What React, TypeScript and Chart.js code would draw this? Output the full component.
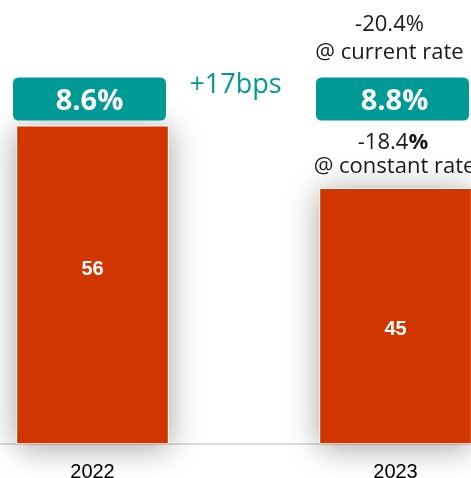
import React, { useEffect, useRef } from "react";
import { Chart, registerables } from "chart.js";

Chart.register(...registerables);

const categories = ["2022", "2023"];
const values = [56, 45];
const rateLabels = ["8.6%", "8.8%"];
const changeLabel = "+17bps";
const currentRateLines = ["-20.4%", "@ current rate"];
const constantRateValue = "-18.4";
const constantRateUnit = "%";
const constantRateNote = "@ constant rate";

const RED = "#d13600";
const TEAL = "#009a96";
const FONT = "'Open Sans', 'Noto Sans', sans-serif";

function roundRect(ctx: CanvasRenderingContext2D, x: number, y: number, w: number, h: number, r: number) {
  ctx.beginPath();
  ctx.moveTo(x + r, y);
  ctx.lineTo(x + w - r, y);
  ctx.quadraticCurveTo(x + w, y, x + w, y + r);
  ctx.lineTo(x + w, y + h - r);
  ctx.quadraticCurveTo(x + w, y + h, x + w - r, y + h);
  ctx.lineTo(x + r, y + h);
  ctx.quadraticCurveTo(x, y + h, x, y + h - r);
  ctx.lineTo(x, y + r);
  ctx.quadraticCurveTo(x, y, x + r, y);
  ctx.closePath();
}

const shadowPlugin = {
  id: "barShadow",
  beforeDatasetsDraw(chart: any) {
    const ctx: CanvasRenderingContext2D = chart.ctx;
    const bars = chart.getDatasetMeta(0).data;
    ctx.save();
    ctx.shadowColor = "rgba(0,0,0,0.38)";
    ctx.shadowBlur = 30;
    ctx.shadowOffsetX = 0;
    ctx.shadowOffsetY = 3;
    ctx.fillStyle = "#ffffff";
    bars.forEach((bar: any) => {
      const { x, y, base, width } = bar.getProps(["x", "y", "base", "width"], true);
      ctx.fillRect(x - width / 2, y, width, base - y);
    });
    ctx.restore();
  },
};

const annotationPlugin = {
  id: "annotations",
  afterDraw(chart: any) {
    const ctx: CanvasRenderingContext2D = chart.ctx;
    const meta = chart.getDatasetMeta(0);
    const bars = meta.data;
    ctx.save();
    // value labels inside bars
    const labelOffsets = [-15, 13];
    bars.forEach((bar: any, i: number) => {
      const mid = (bar.y + bar.base) / 2 + labelOffsets[i];
      ctx.font = `bold 20px 'Liberation Sans', Arial, sans-serif`;
      ctx.fillStyle = "#ffffff";
      ctx.textAlign = "center";
      ctx.textBaseline = "middle";
      ctx.fillText(String(values[i]), bar.x, mid);
    });
    // rate boxes
    bars.forEach((bar: any, i: number) => {
      const left = bar.x - 79.5;
      ctx.fillStyle = TEAL;
      roundRect(ctx, left, 77.5, 153, 43, 6);
      ctx.fill();
      ctx.font = `bold 29px ${FONT}`;
      ctx.fillStyle = "#ffffff";
      ctx.textAlign = "center";
      ctx.textBaseline = "alphabetic";
      ctx.fillText(rateLabels[i], left + 76.5 + (i === 1 ? 2 : 0), 109.5);
    });
    const b0 = bars[0];
    const b1 = bars[1];
    // change label
    ctx.font = `27px ${FONT}`;
    ctx.fillStyle = TEAL;
    ctx.textAlign = "center";
    ctx.textBaseline = "alphabetic";
    ctx.fillText(changeLabel, b0.x + 143, 93);
    // current rate
    ctx.fillStyle = "#1a1a1a";
    ctx.font = `22px ${FONT}`;
    ctx.fillText(currentRateLines[0], b1.x - 6, 31);
    ctx.fillText(currentRateLines[1], b1.x - 6, 59);
    // constant rate
    ctx.font = `22px ${FONT}`;
    const w1 = ctx.measureText(constantRateValue).width;
    ctx.font = `bold 22px ${FONT}`;
    const w2 = ctx.measureText(constantRateUnit).width;
    const startX = b1.x - 2.5 - (w1 + w2) / 2;
    ctx.textAlign = "left";
    ctx.font = `22px ${FONT}`;
    ctx.fillText(constantRateValue, startX, 149);
    ctx.font = `bold 22px ${FONT}`;
    ctx.fillText(constantRateUnit, startX + w1, 149);
    ctx.font = `22px ${FONT}`;
    ctx.textAlign = "center";
    ctx.fillText(constantRateNote, b1.x - 1, 173);
    ctx.restore();
  },
};

export default function App() {
  const canvasRef = useRef<HTMLCanvasElement | null>(null);

  useEffect(() => {
    if (!canvasRef.current) return;
    const chart = new Chart(canvasRef.current, {
      type: "bar",
      data: {
        labels: categories,
        datasets: [
          {
            data: values,
            backgroundColor: RED,
            borderColor: "#ffffff",
            borderWidth: 1,
            borderSkipped: false,
            barThickness: 152,
          },
        ],
      },
      options: {
        animation: false,
        responsive: true,
        maintainAspectRatio: false,
        layout: { padding: { top: 103, left: 0, right: 0, bottom: 0 } },
        plugins: {
          legend: { display: false },
          tooltip: { enabled: false },
          title: { display: false },
        },
        scales: {
          x: {
            offset: true,
            grid: { display: false },
            border: { display: true, color: "#dcdcdc", width: 2 },
            ticks: {
              color: "#000000",
              font: { family: "'Liberation Sans', Arial, sans-serif", size: 20 },
              padding: 8,
            },
            afterFit(scale: any) {
              scale.height = 34;
            },
          },
          y: {
            display: false,
            min: 0,
            max: 60,
          },
        },
      },
      plugins: [shadowPlugin, annotationPlugin],
    });
    return () => chart.destroy();
  }, []);

  return (
    <div
      style={{
        position: "fixed",
        left: 0,
        top: 0,
        width: 471,
        height: 478,
        overflow: "hidden",
        background: "#ffffff",
      }}
    >
      <div style={{ position: "absolute", left: -59, top: 0, width: 606, height: 478 }}>
        <canvas ref={canvasRef} />
      </div>
    </div>
  );
}
